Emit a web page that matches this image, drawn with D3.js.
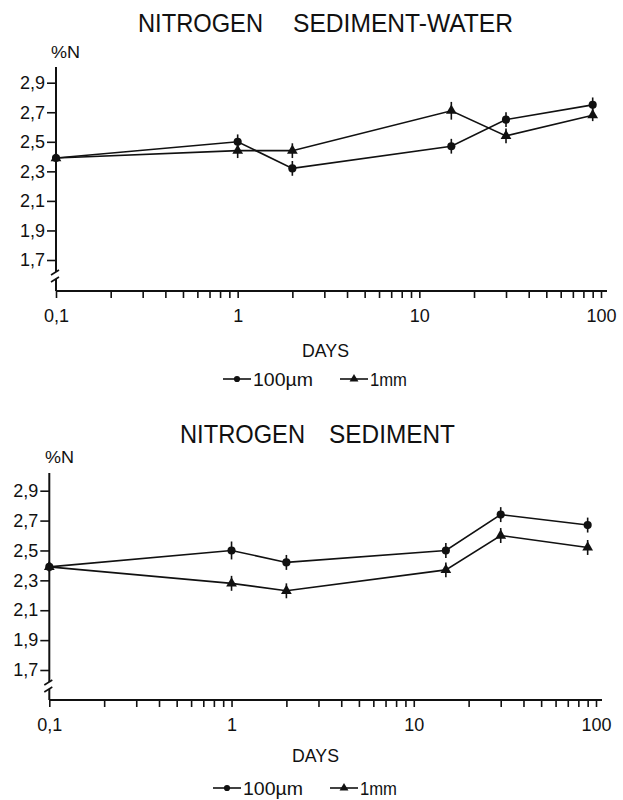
<!DOCTYPE html>
<html>
<head>
<meta charset="utf-8">
<script src="https://cdn.jsdelivr.net/npm/d3@7"></script>
<style>
body { margin: 0; background: #fff; }
svg { display: block; }
text { font-family: "Liberation Sans", Arial, sans-serif; fill: #111; }
.tick text { font-size: 18px; }
</style>
</head>
<body>
<svg width="623" height="800"></svg>
<script>
// sampling days (log axis)
var days = [0.1, 1, 2, 15, 30, 90];
var majorDays = [0.1, 1, 10, 100];
var xTickLabels = ["0,1", "1", "10", "100"];
var yTicks = [1.7, 1.9, 2.1, 2.3, 2.5, 2.7, 2.9];
var seriesNames = ["100µm", "1mm"];

// %N, sediment-water experiment
var waterFine = [2.39, 2.50, 2.32, 2.47, 2.65, 2.75];
var waterCoarse = [2.39, 2.44, 2.44, 2.71, 2.54, 2.68];
var waterFineErr = [0.03, 0.05, 0.05, 0.05, 0.05, 0.05];
var waterCoarseErr = [0.03, 0.05, 0.05, 0.06, 0.05, 0.04];

// %N, sediment only
var sedFine = [2.39, 2.50, 2.42, 2.50, 2.74, 2.67];
var sedCoarse = [2.39, 2.28, 2.23, 2.37, 2.60, 2.52];
var sedFineErr = [0.03, 0.06, 0.05, 0.05, 0.05, 0.05];
var sedCoarseErr = [0.03, 0.05, 0.05, 0.05, 0.05, 0.05];

var ink = "#111";

function init() {
    var svg = d3.select("svg");
    drawPanel(svg, {
        titles: [{ t: "NITROGEN", x: 138, w: 125 }, { t: "SEDIMENT-WATER", x: 293, w: 220 }],
        titleY: 32,
        unitX: 51, unitY: 58,
        x0: 56, x1: 601, y17: 260, y29: 82.7,
        axisTop: 67, breakY: 276, axisY: 291,
        daysX: 302, daysY: 357,
        legX: 223, legX2: 340, legY: 379,
        fine: waterFine, coarse: waterCoarse,
        fineErr: waterFineErr, coarseErr: waterCoarseErr
    });
    drawPanel(svg, {
        titles: [{ t: "NITROGEN", x: 180, w: 125 }, { t: "SEDIMENT", x: 329, w: 126 }],
        titleY: 443,
        unitX: 45, unitY: 463,
        x0: 49.3, x1: 596, y17: 670, y29: 490.7,
        axisTop: 473, breakY: 686, axisY: 700,
        daysX: 292, daysY: 762,
        legX: 213, legX2: 330, legY: 788,
        fine: sedFine, coarse: sedCoarse,
        fineErr: sedFineErr, coarseErr: sedCoarseErr
    });
}

function drawPanel(svg, p) {
    var g = svg.append("g");
    var x = d3.scaleLog().domain([0.1, 100]).range([p.x0, p.x1]);
    var y = d3.scaleLinear().domain([1.7, 2.9]).range([p.y17, p.y29]);

    // title
    p.titles.forEach(function (d) {
        g.append("text").attr("x", d.x).attr("y", p.titleY)
            .attr("font-size", 25).attr("textLength", d.w).attr("lengthAdjust", "spacingAndGlyphs")
            .text(d.t);
    });
    g.append("text").attr("x", p.unitX).attr("y", p.unitY)
        .attr("font-size", 17).attr("textLength", 29).attr("lengthAdjust", "spacingAndGlyphs")
        .text("%N");

    // x axis with log minor ticks
    var xAxis = d3.axisBottom(x)
        .tickValues(x.ticks())
        .tickSize(7)
        .tickPadding(11)
        .tickFormat(function (d) {
            var i = majorDays.findIndex(function (m) { return Math.abs(m - d) < 1e-9; });
            return i < 0 ? "" : xTickLabels[i];
        });
    var gx = g.append("g").attr("transform", "translate(0," + p.axisY + ")")
        .style("color", ink).call(xAxis);
    gx.select(".domain").remove();
    gx.selectAll(".tick line").attr("stroke-width", 1.6);
    gx.attr("font-family", null).attr("font-size", null);
    g.append("line").attr("x1", p.x0).attr("x2", p.x1 + 6)
        .attr("y1", p.axisY).attr("y2", p.axisY)
        .attr("stroke", ink).attr("stroke-width", 2);

    // y axis
    var yAxis = d3.axisLeft(y)
        .tickValues(yTicks)
        .tickSize(9)
        .tickPadding(2)
        .tickFormat(function (d) { return d.toFixed(1).replace(".", ","); });
    var gy = g.append("g").attr("transform", "translate(" + p.x0 + ",0)")
        .style("color", ink).call(yAxis);
    gy.select(".domain").remove();
    gy.selectAll(".tick line").attr("stroke-width", 1.6);
    gy.attr("font-family", null).attr("font-size", null);

    // y axis line with a break above the x axis
    g.append("line").attr("x1", p.x0).attr("x2", p.x0)
        .attr("y1", p.axisTop).attr("y2", p.breakY - 4)
        .attr("stroke", ink).attr("stroke-width", 2);
    g.append("line").attr("x1", p.x0).attr("x2", p.x0)
        .attr("y1", p.breakY + 3).attr("y2", p.axisY)
        .attr("stroke", ink).attr("stroke-width", 2);
    [-4, 3].forEach(function (o) {
        g.append("line")
            .attr("x1", p.x0 - 5).attr("y1", p.breakY + o + 3)
            .attr("x2", p.x0 + 3).attr("y2", p.breakY + o - 2)
            .attr("stroke", ink).attr("stroke-width", 1.6);
    });

    // DAYS label
    g.append("text").attr("x", p.daysX).attr("y", p.daysY)
        .attr("font-size", 19).attr("textLength", 47).attr("lengthAdjust", "spacingAndGlyphs")
        .text("DAYS");

    // series
    var line = d3.line()
        .x(function (d) { return x(d.day); })
        .y(function (d) { return y(d.v); });
    var sets = [
        { vals: p.fine, err: p.fineErr, shape: d3.symbolCircle, size: 52 },
        { vals: p.coarse, err: p.coarseErr, shape: d3.symbolTriangle, size: 50 }
    ];
    sets.forEach(function (s) {
        var pts = days.map(function (d, i) { return { day: d, v: s.vals[i], e: s.err[i] }; });
        g.append("path").datum(pts).attr("d", line)
            .attr("fill", "none").attr("stroke", ink).attr("stroke-width", 1.6);
        g.selectAll(null).data(pts).enter().append("line")
            .attr("x1", function (d) { return x(d.day); })
            .attr("x2", function (d) { return x(d.day); })
            .attr("y1", function (d) { return y(d.v - d.e); })
            .attr("y2", function (d) { return y(d.v + d.e); })
            .attr("stroke", ink).attr("stroke-width", 1.6);
        g.selectAll(null).data(pts).enter().append("path")
            .attr("d", d3.symbol().type(s.shape).size(s.size))
            .attr("transform", function (d) { return "translate(" + x(d.day) + "," + y(d.v) + ")"; })
            .attr("fill", ink);
    });

    // legend
    var leg = [
        { x: p.legX, name: seriesNames[0], shape: d3.symbolCircle, size: 30, w: 60 },
        { x: p.legX2, name: seriesNames[1], shape: d3.symbolTriangle, size: 34, w: 37 }
    ];
    leg.forEach(function (d) {
        g.append("line").attr("x1", d.x).attr("x2", d.x + 28)
            .attr("y1", p.legY).attr("y2", p.legY)
            .attr("stroke", ink).attr("stroke-width", 1.6);
        g.append("path").attr("d", d3.symbol().type(d.shape).size(d.size))
            .attr("transform", "translate(" + (d.x + 14) + "," + p.legY + ")")
            .attr("fill", ink);
        g.append("text").attr("x", d.x + 30).attr("y", p.legY + 6.5)
            .attr("font-size", 19).attr("textLength", d.w).attr("lengthAdjust", "spacingAndGlyphs")
            .text(d.name);
    });
}

init();
</script>
</body>
</html>
